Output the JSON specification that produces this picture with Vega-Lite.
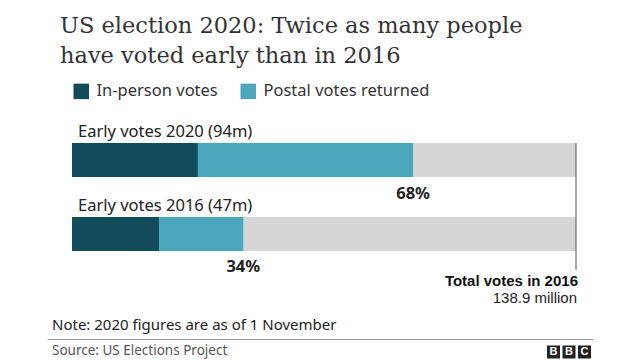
{
  "$schema": "https://vega.github.io/schema/vega-lite/v6.json",
  "width": 546,
  "height": 148,
  "autosize": {"type": "none"},
  "padding": {"left": 47, "top": 123, "right": 47, "bottom": 89},
  "background": "white",
  "title": {
    "text": ["US election 2020: Twice as many people", "have voted early than in 2016"],
    "anchor": "start",
    "frame": "group",
    "font": "DejaVu Serif",
    "fontSize": 22.5,
    "fontWeight": "normal",
    "color": "#333333",
    "lineHeight": 30,
    "dx": 13,
    "offset": 16
  },
  "config": {
    "view": {"stroke": null},
    "font": "Noto Sans"
  },
  "datasets": {
    "parts": [
      {"year": "2020", "type": "In-person votes", "value": 34.7},
      {"year": "2020", "type": "Postal votes returned", "value": 59.3},
      {"year": "2016", "type": "In-person votes", "value": 24.0},
      {"year": "2016", "type": "Postal votes returned", "value": 23.2}
    ],
    "totals": [
      {"year": "2020", "label": "Early votes 2020 (94m)", "early": 94.0, "pct": "68%", "all": 138.9},
      {"year": "2016", "label": "Early votes 2016 (47m)", "early": 47.2, "pct": "34%", "all": 138.9}
    ],
    "notes": [
      {"key": "total", "text": "Total votes in 2016"},
      {"key": "million", "text": "138.9 million"},
      {"key": "note", "text": "Note: 2020 figures are as of 1 November"},
      {"key": "source", "text": "Source: US Elections Project"}
    ],
    "logo": [
      {"slot": 1, "letter": "B"},
      {"slot": 2, "letter": "B"},
      {"slot": 3, "letter": "C"}
    ]
  },
  "layer": [
    {
      "data": {"name": "totals"},
      "mark": {"type": "bar", "color": "#d6d6d6"},
      "encoding": {
        "x": {
          "field": "all", "type": "quantitative",
          "scale": {"domain": [-6.89, 143.585], "nice": false, "zero": false},
          "axis": {"title": null, "labels": false, "ticks": false, "grid": false, "domain": true, "domainColor": "#9a9a9a", "domainWidth": 1, "offset": 68}
        },
        "y": {
          "field": "year", "type": "nominal",
          "scale": {"domain": ["2020", "2016"], "paddingInner": 0.5405, "paddingOuter": 0.2703},
          "axis": null
        }
      }
    },
    {
      "data": {"name": "parts"},
      "mark": {"type": "bar"},
      "encoding": {
        "x": {"field": "value", "type": "quantitative"},
        "y": {"field": "year", "type": "nominal"},
        "color": {
          "field": "type", "type": "nominal",
          "scale": {"domain": ["In-person votes", "Postal votes returned"], "range": ["#124b5c", "#4aa7bc"]},
          "legend": {
            "title": null,
            "orient": "none",
            "direction": "horizontal",
            "legendX": 26,
            "legendY": -40,
            "padding": 0,
            "symbolType": "square",
            "symbolSize": 240,
            "symbolStrokeWidth": 0,
            "labelFont": "Noto Sans",
            "labelFontSize": 16.5,
            "labelColor": "#333333",
            "labelOffset": 7,
            "columnPadding": 22,
            "labelLimit": 300
          }
        }
      }
    },
    {
      "data": {"name": "totals"},
      "mark": {"type": "text", "align": "left", "baseline": "alphabetic", "dx": 6, "dy": -23, "fontSize": 16.5, "color": "#222222"},
      "encoding": {
        "x": {"datum": 0},
        "y": {"field": "year", "type": "nominal"},
        "text": {"field": "label"}
      }
    },
    {
      "data": {"name": "totals"},
      "mark": {"type": "text", "align": "center", "baseline": "alphabetic", "dy": 38.5, "fontSize": 16.5, "fontWeight": "bold", "color": "#222222"},
      "encoding": {
        "x": {"field": "early", "type": "quantitative"},
        "y": {"field": "year", "type": "nominal"},
        "text": {"field": "pct"}
      }
    },
    {
      "data": {"values": [{}]},
      "mark": {"type": "rule", "color": "#555555", "strokeWidth": 1, "yOffset": -17, "y2Offset": 36},
      "encoding": {
        "x": {"datum": 138.9},
        "y": {"datum": "2020"},
        "y2": {"datum": "2016"}
      }
    },
    {
      "data": {"name": "notes"},
      "transform": [{"filter": "datum.key === 'total'"}],
      "mark": {"type": "text", "align": "right", "baseline": "alphabetic", "dx": 2, "dy": 52, "font": "Liberation Sans", "fontSize": 15, "fontWeight": "bold", "color": "#111111"},
      "encoding": {
        "x": {"datum": 138.9},
        "y": {"datum": "2016"},
        "text": {"field": "text"}
      }
    },
    {
      "data": {"name": "notes"},
      "transform": [{"filter": "datum.key === 'million'"}],
      "mark": {"type": "text", "align": "right", "baseline": "alphabetic", "dx": 1, "dy": 69, "font": "Liberation Sans", "fontSize": 15, "color": "#222222"},
      "encoding": {
        "x": {"datum": 138.9},
        "y": {"datum": "2016"},
        "text": {"field": "text"}
      }
    },
    {
      "data": {"name": "notes"},
      "transform": [{"filter": "datum.key === 'note'"}],
      "mark": {"type": "text", "align": "left", "baseline": "alphabetic", "dx": 5, "dy": 96, "fontSize": 15, "color": "#222222"},
      "encoding": {
        "x": {"datum": -6.89},
        "y": {"datum": "2016"},
        "text": {"field": "text"}
      }
    },
    {
      "data": {"name": "notes"},
      "transform": [{"filter": "datum.key === 'source'"}],
      "mark": {"type": "text", "align": "left", "baseline": "alphabetic", "dx": 5, "dy": 121, "fontSize": 13.5, "color": "#555555"},
      "encoding": {
        "x": {"datum": -6.89},
        "y": {"datum": "2016"},
        "text": {"field": "text"}
      }
    },
    {
      "data": {"name": "logo"},
      "encoding": {
        "x": {"datum": 132.7},
        "xOffset": {"field": "slot", "type": "quantitative", "scale": {"domain": [1, 3], "range": [0, 31]}},
        "y": {"datum": "2016"}
      },
      "layer": [
        {"mark": {"type": "point", "shape": "square", "filled": true, "size": 169, "color": "#222222", "opacity": 1, "strokeWidth": 0, "yOffset": 118}},
        {
          "mark": {"type": "text", "align": "center", "baseline": "middle", "dy": 118.5, "font": "Liberation Sans", "fontSize": 11, "fontWeight": "bold", "color": "white"},
          "encoding": {"text": {"field": "letter"}}
        }
      ]
    }
  ]
}
